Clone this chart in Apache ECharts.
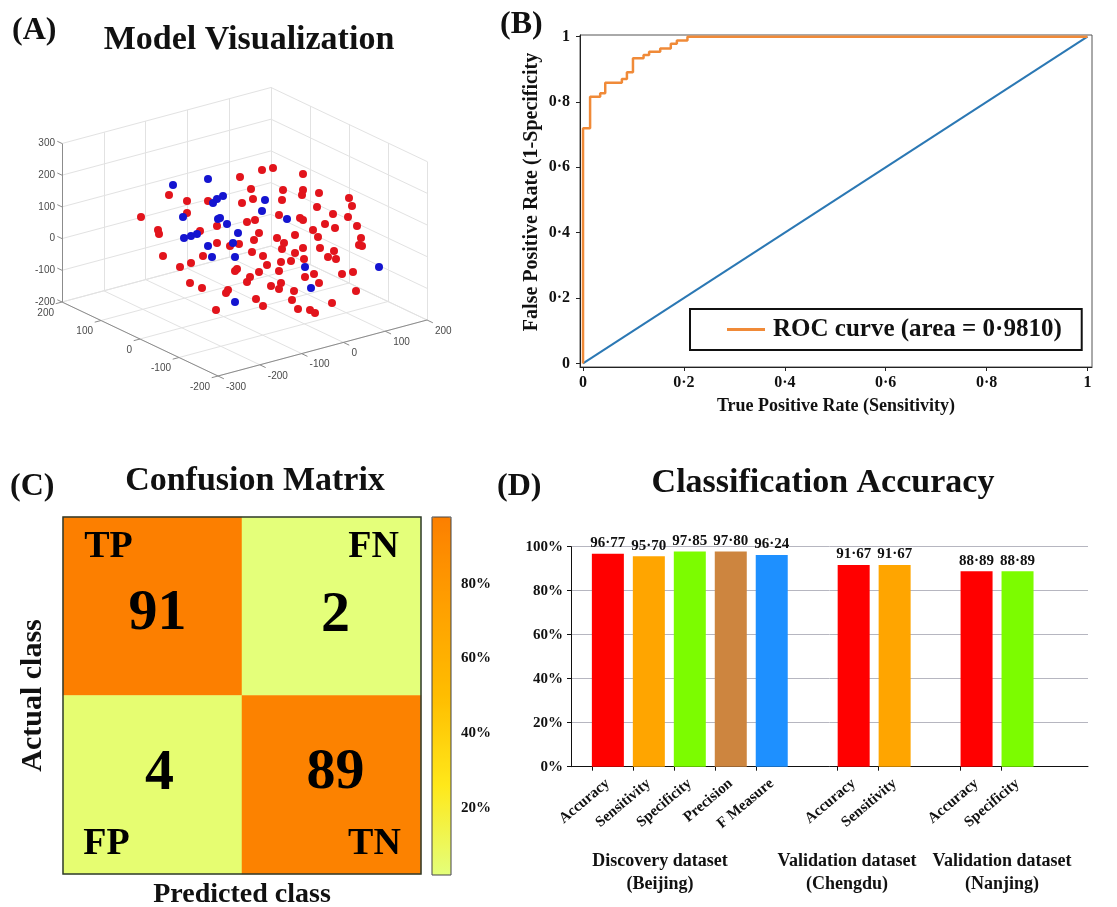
<!DOCTYPE html>
<html><head><meta charset="utf-8"><title>Figure</title>
<script src="https://cdn.jsdelivr.net/npm/echarts@6.0.0/dist/echarts.min.js"></script>
<style>html,body{margin:0;padding:0;background:#fff;}#chart{width:1117px;height:907px;}</style>
</head><body><div id="chart"></div>
<script>
// ---------------- DATA ----------------
// (A) 3D scatter: points in projected view-plane units of the default 3-D view
const redView = [[-77,159],[-49,181],[-60,146],[-59,142],[-55,120],[-38,109],[-27,113],[-28,93],[-16,88],[-31,175],[-31,163],[-18,145],[-15,120],[-10,175],[-1,150],[-1,133],[-2,66],[8,83],[10,86],[12,130],[17,105],[19,107],[21,132],[22,199],[24,173],[29,154],[29,94],[32,99],[33,187],[34,124],[35,177],[36,136],[37,156],[38,77],[41,143],[41,104],[44,206],[45,120],[45,70],[49,111],[53,90],[55,208],[59,138],[61,105],[61,161],[63,114],[63,93],[64,127],[64,176],[65,186],[66,133],[73,115],[74,76],[76,85],[77,141],[77,123],[80,67],[82,158],[85,202],[85,156],[85,186],[84,181],[85,128],[86,117],[87,99],[92,66],[96,102],[95,146],[97,63],[99,169],[100,139],[101,183],[101,93],[102,128],[107,152],[110,119],[114,73],[115,162],[116,125],[117,148],[118,117],[124,102],[130,159],[131,178],[134,170],[135,104],[138,85],[139,150],[143,138],[141,131],[144,130],[61,87]];
const blueView = [[-45,191],[-10,197],[-35,159],[-34,138],[-27,140],[-21,142],[-10,130],[-6,119],[-5,173],[-1,177],[5,180],[0,157],[2,158],[9,152],[15,133],[20,143],[17,119],[17,74],[47,176],[44,165],[69,157],[87,109],[93,88],[161,109]];
const axis3dX = [-300,-200,-100,0,100,200];
const axis3dY = [-200,-100,0,100,200];
const axis3dZ = [-200,-100,0,100,200,300];

// (B) ROC
const rocFpr = [0,0,0.014,0.014,0.034,0.034,0.044,0.044,0.077,0.077,0.087,0.087,0.099,0.099,0.12,0.12,0.131,0.131,0.153,0.153,0.174,0.174,0.186,0.186,0.207,0.207,1];
const rocTpr = [0,0.72,0.72,0.816,0.816,0.827,0.827,0.859,0.859,0.87,0.87,0.891,0.891,0.934,0.934,0.944,0.944,0.954,0.954,0.964,0.964,0.978,0.978,0.988,0.988,1,1];
const chanceFpr = [0,1];
const chanceTpr = [0,1];
const rocArea = '0·9810';
const rocTicks = [0,0.2,0.4,0.6,0.8,1];

// (C) Confusion matrix
const cmClasses = ['Positive','Negative'];
const cmCounts = [[91,2],[4,89]];
const cmCorners = [['TP','FN'],['FP','TN']];
const cbTicks = [20,40,60,80];

// (D) Classification accuracy
const accCategories = ['Accuracy','Sensitivity','Specificity','Precision','F Measure','','Accuracy','Sensitivity','','Accuracy','Specificity'];
const accValues = [96.77,95.70,97.85,97.80,96.24,null,91.67,91.67,null,88.89,88.89];
const accGroups = ['Discovery dataset\n(Beijing)','Validation dataset\n(Chengdu)','Validation dataset\n(Nanjing)'];
const accTicks = [0,20,40,60,80,100];

// ---------------- STYLE ----------------
const SERIF = "'Liberation Serif','Times New Roman',serif";
const SANS = "'Liberation Sans',Arial,sans-serif";
const INK = '#111111';
const accColors = ['#ff0000','#ffa500','#7cfc00','#cd853f','#1e90ff',null,'#ff0000','#ffa500',null,'#ff0000','#7cfc00'];
const wistia = ['#e4ff7a','#ffe81a','#ffbd00','#ffa000','#fc7f00'];
const ROC_ORANGE = '#f08a38';
const CHANCE_BLUE = '#2b78b4';
const cmNumOffsets = [[[5,8],[4,10]],[[7,-11],[4,-12]]];
const cmCornerOffsets = [[[-44,-59],[42,-59]],[[-46,59],[43,59]]];
const groupCenters = [660,847,1002];

const bold = (size, extra) => Object.assign({fontFamily: SERIF, fontWeight: 'bold', fontSize: size, color: INK}, extra || {});
const midDot = v => String(v).replace('.', '\u00b7');

// ---------------- PANEL A geometry (projection of 3-D axes box) ----------------
const xMin = axis3dX[0], xMax = axis3dX[axis3dX.length-1];
const yMin = axis3dY[0], yMax = axis3dY[axis3dY.length-1];
const zMin = axis3dZ[0], zMax = axis3dZ[axis3dZ.length-1];
function proj(X, Y, Z) {
  const a = X - xMin, b = Y - yMin, c = Z - zMin;
  return [0.418*a - 0.39*b, 0.112*a + 0.185*b + 0.317*c];
}
const gridSegs = [];
axis3dX.forEach(x => { gridSegs.push([proj(x,yMax,zMin), proj(x,yMax,zMax)]); gridSegs.push([proj(x,yMin,zMin), proj(x,yMax,zMin)]); });
axis3dY.forEach(y => { gridSegs.push([proj(xMax,y,zMin), proj(xMax,y,zMax)]); gridSegs.push([proj(xMin,y,zMin), proj(xMax,y,zMin)]); });
axis3dZ.forEach(z => { gridSegs.push([proj(xMin,yMax,z), proj(xMax,yMax,z)]); gridSegs.push([proj(xMax,yMin,z), proj(xMax,yMax,z)]); });
const edgeSegs = [
  [proj(xMin,yMax,zMin), proj(xMin,yMax,zMax)],
  [proj(xMin,yMin,zMin), proj(xMin,yMax,zMin)],
  [proj(xMin,yMin,zMin), proj(xMax,yMin,zMin)]
];
axis3dZ.forEach(z => edgeSegs.push([proj(xMin,yMax,z), proj(xMin,yMax+12,z)]));
axis3dY.forEach(y => edgeSegs.push([proj(xMin,y,zMin), proj(xMin-15,y,zMin)]));
axis3dX.forEach(x => edgeSegs.push([proj(x,yMin,zMin), proj(x,yMin-15,zMin)]));

const lbl3d = {color: '#4a4a4a', fontFamily: SANS, fontSize: 10};

// ---------------- PANEL C data ----------------
const cmPct = cmCounts.map(row => { const s = row.reduce((a,b)=>a+b,0); return row.map(v => v / s * 100); });
const allPct = cmPct.flat();
const cbMin = Math.min(...allPct), cbMax = Math.max(...allPct);
const heatData = [], cornerData = [];
cmCounts.forEach((row, r) => row.forEach((cnt, c) => {
  heatData.push({value: [c, r, cmPct[r][c]], label: {offset: cmNumOffsets[r][c]}});
  cornerData.push({value: [c, r], label: {offset: cmCornerOffsets[r][c]}});
}));

// ---------------- PANEL D data ----------------
const barData = [];
accValues.forEach((v, i) => { if (v != null) barData.push({value: [i, v], itemStyle: {color: accColors[i]}}); });
const barIdx = barData.map(d => d.value[0]);
const barHalf = 0.39;

const rocName = 'ROC curve (area = ' + rocArea + ')';

function T(text, x, y, size, align, extra) {
  return {text, left: x, top: y, padding: 0, textAlign: align, textVerticalAlign: 'middle',
    textStyle: bold(size, extra)};
}

const series = [
  {type:'lines', coordinateSystem:'cartesian2d', xAxisIndex:0, yAxisIndex:0, silent:true, clip:false,
   lineStyle:{color:'#e2e2e2', width:1, opacity:1}, data: gridSegs.map(c => ({coords:c})), z:1},
  {type:'lines', coordinateSystem:'cartesian2d', xAxisIndex:0, yAxisIndex:0, silent:true, clip:false,
   lineStyle:{color:'#8c8c8c', width:1, opacity:1}, data: edgeSegs.map(c => ({coords:c})), z:1},
  {type:'scatter', xAxisIndex:0, yAxisIndex:0, symbolSize:0, silent:true, itemStyle:{opacity:1},
   data: axis3dZ.map(z => ({value: proj(xMin,yMax,z), name: String(z)})),
   label:{show:true, position:'left', distance:7, formatter:'{b}', ...lbl3d}},
  {type:'scatter', xAxisIndex:0, yAxisIndex:0, symbolSize:0, silent:true, itemStyle:{opacity:1},
   data: axis3dY.map(y => ({value: proj(xMin,y,zMin), name: String(y)})),
   label:{show:true, position:'inside', align:'right', verticalAlign:'middle', offset:[-8,11], formatter:'{b}', ...lbl3d}},
  {type:'scatter', xAxisIndex:0, yAxisIndex:0, symbolSize:0, silent:true, itemStyle:{opacity:1},
   data: axis3dX.map(x => ({value: proj(x,yMin,zMin), name: String(x)})),
   label:{show:true, position:'inside', align:'left', verticalAlign:'middle', offset:[8,11], formatter:'{b}', ...lbl3d}},
  {type:'scatter', xAxisIndex:0, yAxisIndex:0, symbolSize:8, data: redView, itemStyle:{color:'#e2141c', opacity:1}, z:3},
  {type:'scatter', xAxisIndex:0, yAxisIndex:0, symbolSize:8, data: blueView, itemStyle:{color:'#1414d0', opacity:1}, z:4},
  {type:'line', name: 'chance', xAxisIndex:1, yAxisIndex:1, symbol:'none', data: chanceFpr.map((x,i)=>[x, chanceTpr[i]]),
   lineStyle:{color:CHANCE_BLUE, width:2}, itemStyle:{color:CHANCE_BLUE}, z:2},
  {type:'line', name: rocName, xAxisIndex:1, yAxisIndex:1, symbol:'none', data: rocFpr.map((x,i)=>[x, rocTpr[i]]),
   lineStyle:{color:ROC_ORANGE, width:2.5}, itemStyle:{color:ROC_ORANGE}, z:3},
  {type:'heatmap', xAxisIndex:2, yAxisIndex:2, data: heatData,
   label:{show:true, formatter: p => cmCounts[p.value[1]][p.value[0]], ...bold(58, {color:'#000'})}},
  {type:'scatter', xAxisIndex:2, yAxisIndex:2, symbolSize:0, silent:true, data: cornerData, z:6,
   itemStyle:{opacity:1},
   label:{show:true, position:'inside', formatter: p => cmCorners[p.value[1]][p.value[0]], ...bold(38, {color:'#000'})}},
  {type:'bar', xAxisIndex:4, yAxisIndex:4, barWidth:32, data: barData,
   label:{show:true, position:'top', distance:3, formatter: p => midDot(p.value[1].toFixed(2)), ...bold(15)}}
];
const heatIdx = series.findIndex(s => s.type === 'heatmap');

const hiddenAxis = (gi, min, max) => ({type:'value', gridIndex:gi, min, max, show:false});

const option = {
  animation: false,
  backgroundColor: '#ffffff',
  textStyle: {fontFamily: SERIF},
  title: [
    T('(A)', 12, 31, 32, 'left'),
    T('Model Visualization', 249, 40, 34, 'center'),
    T('(B)', 500, 25, 32, 'left'),
    T('(C)', 10, 487, 32, 'left'),
    T('Confusion Matrix', 255, 481, 34, 'center'),
    T('(D)', 497, 487, 32, 'left'),
    T('Classification Accuracy', 823, 483, 34, 'center'),
    ...accGroups.map((g, i) => T(g, groupCenters[i], 873, 18, 'center', {lineHeight: 23}))
  ],
  legend: {
    data: [rocName], left: 690, top: 309, padding: [8, 20, 8, 37], selectedMode: false,
    borderColor: '#111', borderWidth: 2, backgroundColor: '#fff',
    itemWidth: 38, itemHeight: 3, icon: 'rect',
    textStyle: bold(25, {padding: [0,0,0,3]})
  },
  grid: [
    {left: 18, top: 76, width: 460, height: 340, outerBoundsMode: 'none'},
    {left: 580, top: 35, width: 512, height: 332, show: true, borderColor: '#555', borderWidth: 1, outerBoundsMode: 'none'},
    {left: 63, top: 517, width: 358, height: 357, show: true, borderColor: '#2e3a2e', borderWidth: 1.5, z: 5, outerBoundsMode: 'none'},
    {left: 432, top: 517, width: 19, height: 358, show: true, borderColor: '#444', borderWidth: 1, z: 5, outerBoundsMode: 'none'},
    {left: 571, top: 546.7, width: 517, height: 220, outerBoundsMode: 'none'}
  ],
  xAxis: [
    hiddenAxis(0, -200, 260),
    {type:'value', gridIndex:1, min:-0.006, max:1.009,
     axisLine:{show:true, onZero:false, lineStyle:{color:'#222'}},
     axisTick:{show:true, length:4, customValues: rocTicks, lineStyle:{color:'#222'}},
     axisLabel:{customValues: rocTicks, formatter: v => midDot(v), margin: 8, ...bold(16)},
     splitLine:{show:false},
     name:'True Positive Rate (Sensitivity)', nameLocation:'middle', nameGap:30, nameTextStyle: bold(18)},
    {type:'category', gridIndex:2, data: cmClasses, axisLine:{show:false}, axisTick:{show:false}, axisLabel:{show:false},
     splitLine:{show:false}, name:'Predicted class', nameLocation:'middle', nameGap:7, nameTextStyle: bold(28)},
    hiddenAxis(3, 0, 1),
    {type:'value', gridIndex:4, min:-0.9, max:11.72,
     axisLine:{show:true, onZero:false, lineStyle:{color:'#111'}},
     axisTick:{show:true, length:4, customValues: barIdx.map(i => i - barHalf), lineStyle:{color:'#111'}},
     axisLabel:{customValues: barIdx, formatter: v => accCategories[Math.round(v)], rotate: 40, margin: 15, ...bold(15)},
     splitLine:{show:false}}
  ],
  yAxis: [
    hiddenAxis(0, -40, 300),
    {type:'value', gridIndex:1, min:-0.011, max:1.005,
     axisLine:{show:true, onZero:false, lineStyle:{color:'#222'}},
     axisTick:{show:true, length:4, customValues: rocTicks, lineStyle:{color:'#222'}},
     axisLabel:{customValues: rocTicks, formatter: v => midDot(v), margin: 10, ...bold(16)},
     splitLine:{show:false},
     name:'False Positive Rate (1-Specificity', nameLocation:'middle', nameGap:38, nameTextStyle: bold(20, {padding:[0,0,0,18]})},
    {type:'category', gridIndex:2, inverse:true, data: cmClasses, axisLine:{show:false}, axisTick:{show:false}, axisLabel:{show:false},
     splitLine:{show:false}, name:'Actual class', nameLocation:'middle', nameGap:15, nameTextStyle: bold(30)},
    {type:'value', gridIndex:3, position:'right', min: cbMin, max: cbMax,
     axisLine:{show:false}, splitLine:{show:false},
     axisTick:{show:true, length:3, customValues: cbTicks, lineStyle:{color:'#333'}},
     axisLabel:{customValues: cbTicks, formatter:'{value}%', margin: 10, ...bold(15)}},
    {type:'value', gridIndex:4, min:0, max:100, interval:20,
     axisLine:{show:true, onZero:false, lineStyle:{color:'#111'}},
     axisTick:{show:true, length:4, lineStyle:{color:'#111'}},
     axisLabel:{formatter:'{value}%', margin: 8, ...bold(15)},
     splitLine:{show:true, lineStyle:{color:'#b6b6c0', width:1}}}
  ],
  visualMap: [{
    type:'continuous', seriesIndex: heatIdx, min: cbMin, max: cbMax, calculable:false, hoverLink:false,
    orient:'vertical', left: 432, top: 517, itemWidth: 19, itemHeight: 358, padding: 0,
    inRange: {color: wistia}, text: null, showLabel: false
  }],
  series
};

const chart = echarts.init(document.getElementById('chart'), null, {renderer:'canvas'});
chart.setOption(option);
</script></body></html>
